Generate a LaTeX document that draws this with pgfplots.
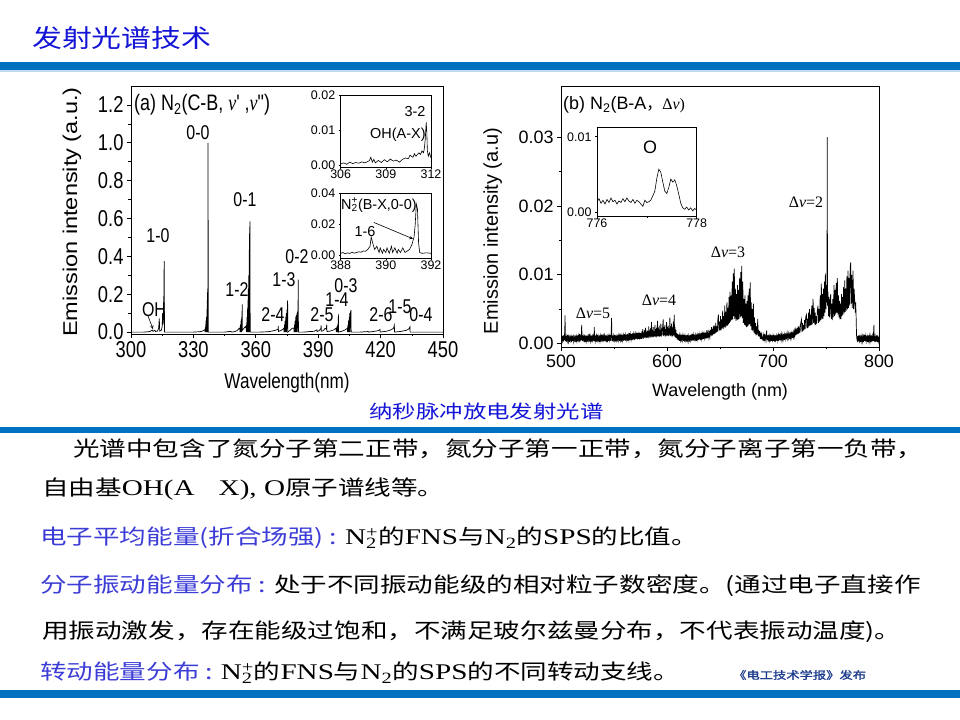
\documentclass[border=0pt]{standalone}
\usepackage{fontspec}
\usepackage{pgfplots}
\pgfplotsset{compat=1.18}
\setmainfont{Liberation Sans}
\newfontfamily\lsans{Liberation Sans}
\newfontfamily\lsansN[FakeStretch=0.8]{Liberation Sans}
\newfontfamily\lsansW[FakeStretch=1.18]{Liberation Sans}
\newfontfamily\lserif{Liberation Serif}
\newfontfamily\lserifN[FakeStretch=0.8]{Liberation Serif}
\newfontfamily\serifW[FakeStretch=1.3]{Liberation Serif}
\newfontfamily\cjk{Noto Sans CJK SC}
\newfontfamily\cjkW[FakeStretch=1.27]{Noto Sans CJK SC}
\newfontfamily\cjkT[FakeStretch=1.2]{Noto Sans CJK SC}
\newfontfamily\cjkB[FakeStretch=1.27,FakeBold=1.5]{Noto Sans CJK SC}
\definecolor{barblue}{RGB}{0,112,192}
\definecolor{titleblue}{RGB}{20,20,215}
\definecolor{labelblue}{RGB}{60,60,215}
\definecolor{pubblue}{RGB}{30,60,140}
\newcommand\fs[1]{\fontsize{#1}{#1}\selectfont}
\newcommand\Ct[1]{{\cjkW\fs{21}#1}}
\newcommand\Lt[1]{{\serifW\fs{22.5}#1}}
\newcommand\Ntwop{N\rlap{\textsubscript{2}}\textsuperscript{+}}
\pgfplotsset{every axis/.append style={/pgf/number format/assume math mode=true, scaled ticks=false,
  tick align=outside, tick pos=left, axis line style={line width=0.8bp}, major tick style={line width=0.7bp, black}, minor tick style={line width=0.6bp, black}}}
\begin{document}
\begin{tikzpicture}
\path[use as bounding box, fill=white] (0,0) rectangle (960bp,720bp);
% bars
\fill[barblue] (0,650bp) rectangle (960bp,658bp);
\fill[barblue!25] (0,648bp) rectangle (960bp,650bp);
\fill[barblue] (0,287bp) rectangle (960bp,293bp);
\fill[barblue] (0,22bp) rectangle (960bp,30bp);
% title
\node[anchor=base west, inner sep=0, text=titleblue] at (32bp,672bp) {\cjkT\fs{25}发射光谱技术};

% ---------- left main axis ----------
\begin{axis}[at={(131bp,386bp)}, anchor=south west, scale only axis, width=312bp, height=248bp,
  xmin=300, xmax=450, ymin=-0.01, ymax=1.3,
  xtick={300,330,360,390,420,450}, ytick={0,0.2,0.4,0.6,0.8,1.0,1.2},
  minor x tick num=1, minor y tick num=1,
  major tick length=4bp, minor tick length=2.5bp,
  tick label style={font=\lsansN\fs{23}},
  yticklabel style={/pgf/number format/.cd, fixed, fixed zerofill, precision=1},
  xlabel={Wavelength(nm)}, ylabel={Emission intensity (a.u.)},
  xlabel style={font=\lsansN\fs{21.5}, at={(axis description cs:0.5,-0.198)}, anchor=center},
  ylabel style={font=\lsansW\fs{20}, at={(axis description cs:-0.189,0.492)}, anchor=center},
]
\addplot[black, line width=0.7bp] coordinates {
(300,0) (306,0) (308.5,0.002) (309.5,0.005) (310.2,0.012) (310.6,0.004) (311.5,0.01) (311.8,0.003) (312.8,0.006) (313.3,0.02) (313.6,0.072) (313.8,0.005) (314.6,0.01) (315.0,0.03) (315.2,0.1) (315.4,0.04) (315.7,0.08) (315.95,0.375) (316.1,0.0) (318,0)
(330,0) (333,0.002) (334.5,0.006) (335.3,0.012) (335.5,0.01) (335.6,0) (335.7,0.02) (335.8,0) (335.9,0.04) (336.0,0) (336.1,0.06) (336.2,0) (336.3,0.08) (336.4,0) (336.5,0.12) (336.6,0) (336.7,0.17) (336.75,0) (336.8,0.21) (336.85,0) (336.9,0.23) (336.95,0.1) (337.05,1.0) (337.15,0.0) (345,0) (348,0.004) (348.3,0) (350,0.003) (351,0.008) (352,0.02) (352.3,0.02) (352.4,0) (352.6,0.04) (352.7,0) (352.9,0.06) (353.0,0) (353.2,0.08) (353.3,0) (353.45,0.147) (353.55,0.01) (354.3,0.02) (355.0,0.03)
(355.4,0.02) (355.5,0) (355.6,0.05) (355.7,0) (355.8,0.08) (355.9,0) (356.0,0.12) (356.1,0) (356.2,0.17) (356.3,0) (356.4,0.23) (356.5,0) (356.6,0.3) (356.7,0) (356.8,0.38) (356.85,0) (356.9,0.45) (356.95,0) (357.0,0.52) (357.05,0.05) (357.1,0.54) (357.2,0.585) (357.3,0.0) (362,0)
(366,0.002) (368,0.006) (369.5,0.01) (370.7,0.015) (370.8,0.033) (370.9,0.003) (372,0.008) (373,0.015) (373.5,0.02) (373.6,0) (373.8,0.04) (373.9,0) (374.1,0.06) (374.2,0) (374.4,0.08) (374.5,0) (374.7,0.1) (374.8,0) (375.0,0.12) (375.1,0.02) (375.2,0.13) (375.3,0.168) (375.4,0.0) (376.5,0.01) (377.5,0.02)
(378.3,0.02) (378.4,0) (378.6,0.04) (378.7,0) (378.9,0.06) (379.0,0) (379.2,0.08) (379.3,0) (379.5,0.09) (379.6,0) (379.8,0.1) (379.9,0) (380.1,0.11) (380.2,0.02) (380.3,0.11) (380.4,0.277) (380.5,0.0) (383,0)
(386,0.003) (388,0.004) (389.4,0.012) (389.5,0.003) (390.5,0.008) (391.3,0.02) (391.4,0.035) (391.5,0.005) (392.5,0.008) (393.3,0.02) (393.9,0.015) (394.1,0.04) (394.2,0.003) (396,0.006) (397.5,0.012) (398.5,0.02)
(398.6,0.015) (398.7,0) (398.9,0.025) (399.0,0) (399.2,0.035) (399.3,0) (399.5,0.045) (399.6,0) (399.7,0.095) (399.8,0.0) (401.5,0.005) (403,0.012)
(404.0,0.02) (404.1,0) (404.3,0.04) (404.4,0) (404.6,0.06) (404.7,0) (404.9,0.08) (405.0,0) (405.2,0.1) (405.3,0) (405.5,0.11) (405.6,0.02) (405.75,0.116) (405.85,0.0) (410,0)
(414,0.003) (414.2,0) (417,0.004) (419,0.008) (419.7,0.014) (419.8,0.0) (423,0.005) (425,0.012) (426.2,0.02) (426.6,0.037) (426.7,0.0) (430,0.004) (432.5,0.01) (433.7,0.018) (434.1,0.028) (434.2,0.0) (440,0) (450,0)
};
\end{axis}

% ---------- left inset OH ----------
\begin{axis}[at={(340.7bp,552.7bp)}, anchor=south west, scale only axis, width=90.3bp, height=72.3bp,
  xmin=306, xmax=312, ymin=-0.00066, ymax=0.02, xtick={306,309,312}, ytick={0,0.01,0.02},
  major tick length=2bp, axis background/.style={fill=white},
  tick label style={font=\lsans\fs{12.5}},
  yticklabel style={/pgf/number format/.cd, fixed, fixed zerofill, precision=2},
  xticklabel style={yshift=3bp}]
\addplot[black, line width=0.6bp] coordinates {
(306,0.0003) (306.2,0.0006) (306.4,0.0002) (306.6,0.0008) (306.8,0.0004) (307,0.0007) (307.2,0.0005) (307.4,0.0009) (307.6,0.0006) (307.8,0.001) (307.9,0.0012) (308,0.0022) (308.1,0.0008) (308.2,0.0016) (308.3,0.0006) (308.5,0.0013) (308.7,0.0007) (308.9,0.0015) (309.1,0.0009) (309.3,0.0017) (309.5,0.0011) (309.7,0.0014) (309.9,0.0008) (310.1,0.0016) (310.3,0.002) (310.5,0.0018) (310.6,0.0028) (310.8,0.0022) (310.9,0.0032) (311.0,0.0025) (311.2,0.0035) (311.3,0.003) (311.4,0.004) (311.5,0.0035) (311.55,0.0045) (311.62,0.0075) (311.68,0.0122) (311.72,0.0095) (311.76,0.004) (311.82,0.0025) (311.9,0.0035) (312,0.002)
};
\node at (axis cs:309.8,0.0086) {\lsans\fs{14.5}OH(A-X)};
\end{axis}

% ---------- left inset N2+ ----------
\begin{axis}[at={(340.7bp,461.7bp)}, anchor=south west, scale only axis, width=90.3bp, height=65bp,
  xmin=388, xmax=392, ymin=-0.0017, ymax=0.04, xtick={388,390,392}, ytick={0,0.02,0.04},
  major tick length=2bp, axis background/.style={fill=white},
  tick label style={font=\lsans\fs{12.5}},
  yticklabel style={/pgf/number format/.cd, fixed, fixed zerofill, precision=2},
  xticklabel style={yshift=3bp}]
\addplot[black, line width=0.6bp] coordinates {
(388,0.0015) (388.1,0.002) (388.2,0.0012) (388.3,0.0018) (388.4,0.0014) (388.5,0.0022) (388.6,0.0016) (388.7,0.002) (388.8,0.0025) (388.9,0.0022) (389.0,0.003) (389.1,0.0028) (389.2,0.004) (389.3,0.006) (389.35,0.012) (389.42,0.008) (389.5,0.004) (389.6,0.006) (389.7,0.002) (389.75,0.005) (389.85,0.0015) (389.9,0.004) (390.0,0.002) (390.05,0.005) (390.15,0.0015) (390.25,0.006) (390.3,0.002) (390.4,0.005) (390.5,0.0015) (390.55,0.004) (390.65,0.002) (390.75,0.005) (390.85,0.002) (390.95,0.003) (391.05,0.004) (391.15,0.007) (391.25,0.012) (391.3,0.02) (391.35,0.033) (391.4,0.03) (391.45,0.008) (391.5,0.002) (391.6,0.0015) (391.8,0.0018) (392,0.0015)
};
\draw[-stealth, line width=0.6bp] (axis cs:389.47,0.0213) -- (axis cs:391.2,0.0108);
\end{axis}

% ---------- right main axis ----------
\begin{axis}[at={(561bp,373bp)}, anchor=south west, scale only axis, width=318bp, height=261bp,
  xmin=500, xmax=800, ymin=-0.0005, ymax=0.03745,
  xtick={500,600,700,800}, ytick={0,0.01,0.02,0.03},
  minor x tick num=1, minor y tick num=1,
  major tick length=4bp, minor tick length=2.5bp,
  tick label style={font=\lsans\fs{18}},
  yticklabel style={/pgf/number format/.cd, fixed, fixed zerofill, precision=2},
  xlabel={Wavelength (nm)}, ylabel={Emission intensity (a.u)},
  xlabel style={font=\lsans\fs{18}, at={(axis description cs:0.5,-0.172)}, anchor=center},
  ylabel style={font=\lsans\fs{20}, at={(axis description cs:-0.215,0.444)}, anchor=center},
]
\addplot[black, line width=0.7bp] coordinates {
(500,0.0009) (500.5,0.0002) (501,0.0011) (501.5,0.0004) (502,0.0012) (502.5,0.0003) (503,0.0010) (503.4,0.0005) (503.8,0.0041) (504.2,0.0004) (504.6,0.0011) (505,0.0002) (505.5,0.0010) (506,0.0004) (506.5,0.0013) (507,0.0003) (507.5,0.0009) (508,0.0002) (508.5,0.0012) (509,0.0005) (509.5,0.0010) (510,0.0002) (510.5,0.0011) (511,0.0004) (511.5,0.0013) (512,0.0003) (512.5,0.0009) (513,0.0005) (513.5,0.0012) (514,0.0002) (514.5,0.0010) (515,0.0004) (515.5,0.0012) (516,0.0003) (516.5,0.0011) (517,0.0005) (517.5,0.0014) (518,0.0003) (518.5,0.0010) (519,0.0005) (519.5,0.0027) (520,0.0004) (520.5,0.0012) (521,0.0003) (521.5,0.0010) (522,0.0005) (522.5,0.0013) (523,0.0002) (523.5,0.0011) (524,0.0004) (524.5,0.0012) (525,0.0003) (525.5,0.0010) (526,0.0005) (526.5,0.0014) (527,0.0003) (527.5,0.0011) (528,0.0004) (528.5,0.0012) (529,0.0002) (529.5,0.0010) (530,0.0005) (530.5,0.0013) (531,0.0004) (531.4,0.0024) (531.8,0.0003) (532.3,0.0012) (532.8,0.0004) (533.3,0.0011) (533.8,0.0003) (534.3,0.0013) (534.8,0.0005) (535.3,0.0010) (535.8,0.0002) (536.3,0.0012) (536.8,0.0004) (537.3,0.0011) (537.8,0.0003) (538.3,0.0013) (538.8,0.0005) (539.3,0.0010) (539.8,0.0003) (540.3,0.0014) (540.8,0.0004) (541.3,0.0011) (541.8,0.0003) (542.3,0.0012) (542.8,0.0005) (543.3,0.0010) (543.8,0.0002) (544.3,0.0013) (544.8,0.0004) (545.3,0.0011) (545.8,0.0005) (546.3,0.0013) (546.8,0.0004) (547.3,0.0012) (547.7,0.0037) (548.1,0.0004) (548.6,0.0012) (549.1,0.0003) (549.6,0.0011) (550.1,0.0005) (550.6,0.0013) (551.1,0.0003) (551.6,0.0012) (552.1,0.0005) (552.6,0.0010) (553.1,0.0003) (553.6,0.0013) (554.1,0.0005) (554.6,0.0012) (555.1,0.0004) (555.6,0.0014) (556.1,0.0005) (556.6,0.0011) (557.1,0.0003) (557.6,0.0013) (558.1,0.0005) (558.6,0.0012) (559.1,0.0004) (559.6,0.0014) (560.1,0.0005) (560.6,0.0012) (561.1,0.0004) (561.6,0.0013) (562.1,0.0006) (562.6,0.0014) (563.1,0.0004) (563.6,0.0012) (564.1,0.0006) (564.6,0.0015) (565.1,0.0005) (565.6,0.0013) (566.1,0.0006) (566.6,0.0014) (567.1,0.0005) (567.6,0.0015) (568.1,0.0006) (568.6,0.0013) (569.1,0.0005) (569.6,0.0016) (570.1,0.0006) (570.6,0.0014) (571.1,0.0007) (571.6,0.0016) (572.1,0.0006) (572.6,0.0015) (573.1,0.0007) (573.6,0.0017) (574.1,0.0006) (574.6,0.0015) (575.1,0.0007) (575.6,0.0016)
(576,0.0007) (576.4,0.0018) (576.8,0.0008) (577.2,0.0021) (577.6,0.0007) (578,0.0016) (578.4,0.0009) (578.8,0.0019) (579.2,0.0008) (579.6,0.0023) (580,0.0009) (580.4,0.0017) (580.8,0.0008) (581.2,0.0020) (581.6,0.0009) (582,0.0018) (582.4,0.0008) (582.8,0.0025) (583.2,0.0010) (583.6,0.0019) (584,0.0008) (584.4,0.0022) (584.8,0.0010) (585.4,0.0031) (585.8,0.0009) (586.2,0.0020) (586.6,0.0010) (587,0.0024) (587.4,0.0009) (587.8,0.0018) (588.2,0.0011) (588.6,0.0027) (589,0.0010) (589.4,0.0021) (589.8,0.0009) (590.2,0.0023) (590.6,0.0011) (591,0.0033) (591.4,0.0010) (591.8,0.0022) (592.2,0.0011) (592.6,0.0026) (593,0.0010) (593.4,0.0020) (593.8,0.0011) (594.2,0.0029) (594.6,0.0010) (595,0.0022) (595.4,0.0012) (595.9,0.0025) (596.4,0.0035) (596.8,0.0011) (597.2,0.0024) (597.6,0.0012) (598,0.0027) (598.4,0.0010) (598.8,0.0021) (599.2,0.0012) (599.6,0.0031) (600,0.0011) (600.4,0.0024) (600.8,0.0012) (601.2,0.0026) (601.6,0.0011) (602,0.0022) (602.3,0.0013) (602.7,0.0038) (603.1,0.0011) (603.5,0.0025) (603.9,0.0012) (604.3,0.0029) (604.7,0.0010) (605.1,0.0023) (605.5,0.0011) (605.9,0.0032) (606.3,0.0012) (606.8,0.0042) (607.2,0.0010) (607.6,0.0024) (608,0.0009) (608.4,0.0020) (608.8,0.0008) (609.2,0.0015) (609.6,0.0006) (610,0.0014)
(610.5,0.0005) (611,0.0013) (611.5,0.0004) (612,0.0012) (612.5,0.0005) (613,0.0011) (613.5,0.0003) (614,0.0013) (614.5,0.0005) (615,0.0012) (615.5,0.0004) (616,0.0013) (616.5,0.0003) (617,0.0011) (617.5,0.0005) (618,0.0012) (618.5,0.0003) (619,0.0013) (619.5,0.0005) (620,0.0011) (620.5,0.0004) (621,0.0012) (621.5,0.0003) (622,0.0013) (622.5,0.0005) (623,0.0011) (623.5,0.0004) (624,0.0014) (624.5,0.0005) (625,0.0012) (625.5,0.0004) (626,0.0013) (626.5,0.0006) (627,0.0012) (627.5,0.0004) (628,0.0014) (628.5,0.0006) (629,0.0012) (629.5,0.0005) (630,0.0015) (630.5,0.0006) (631,0.0013) (631.5,0.0005) (632,0.0015) (632.5,0.0007) (633,0.0014) (633.5,0.0006) (634,0.0017) (634.5,0.0007) (635,0.0014) (635.5,0.0008) (636,0.0016) (636.5,0.0007) (637,0.0015) (637.5,0.0008) (638,0.0019) (638.5,0.0008) (639,0.0016) (639.5,0.0009)
(640,0.0016) (640.5,0.0010) (641,0.0020) (641.5,0.0012) (642,0.0024) (642.5,0.0011) (643,0.0019) (643.5,0.0013) (644,0.0026) (644.5,0.0014) (645,0.0022) (645.5,0.0015) (646,0.0030) (646.5,0.0016) (647,0.0025) (647.5,0.0017) (648,0.0036) (648.5,0.0042) (649,0.0018) (649.5,0.0032) (650,0.0020) (650.5,0.0040) (651,0.0019) (651.5,0.0035) (652,0.0022) (652.5,0.0048) (653,0.0021) (653.5,0.0040) (654,0.0024) (654.5,0.0055) (655,0.0023) (655.5,0.0046) (656,0.0025) (656.5,0.0060) (657,0.0026) (657.5,0.0052) (658,0.0028) (658.5,0.0068) (659,0.0030) (659.5,0.0075) (660,0.0032) (660.5,0.0070) (661,0.0034) (661.5,0.0090) (662,0.0035) (662.5,0.0102) (663,0.0040) (663.5,0.0109) (664,0.0036) (664.5,0.0080) (665,0.0033) (665.5,0.0072) (666,0.0035) (666.5,0.0085) (667,0.0034) (667.5,0.0078) (668,0.0036) (668.5,0.0095) (669,0.0038) (669.5,0.0104) (670,0.0040) (670.5,0.0113) (671,0.0037) (671.5,0.0090) (672,0.0030) (672.5,0.0065) (673,0.0027) (673.5,0.0070) (674,0.0026) (674.5,0.0058) (675,0.0024) (675.5,0.0062) (676,0.0025) (676.5,0.0070) (677,0.0026) (677.5,0.0080) (678,0.0028) (678.5,0.0089) (679,0.0025) (679.5,0.0060) (680,0.0020) (680.5,0.0050) (681,0.0018) (681.5,0.0058) (682,0.0016) (682.5,0.0038) (683,0.0014) (683.5,0.0030) (684,0.0012) (684.5,0.0025) (685,0.0013) (685.6,0.0036) (686,0.0011) (686.5,0.0020) (687,0.0010) (687.5,0.0018) (688,0.0007) (688.5,0.0016) (689,0.0006) (689.5,0.0013) (690,0.0007)
(690.5,0.0005) (691,0.0012) (691.5,0.0004) (692,0.0014) (692.5,0.0005) (693,0.0011) (693.5,0.0006) (694,0.0019) (694.5,0.0005) (695,0.0012) (695.5,0.0003) (696,0.0013) (696.5,0.0005) (697,0.0011) (697.5,0.0003) (698,0.0013) (698.5,0.0004) (699,0.0012) (699.5,0.0003) (700,0.0011) (700.5,0.0004) (701,0.0013) (701.5,0.0003) (702,0.0012) (702.5,0.0005) (703,0.0011) (703.5,0.0004) (704,0.0013) (704.5,0.0005) (705,0.0012) (705.5,0.0004) (706,0.0014) (706.5,0.0005) (707,0.0012) (707.5,0.0006) (708,0.0013) (708.5,0.0005) (709,0.0012) (709.5,0.0006) (710,0.0014) (710.5,0.0005) (711,0.0013) (711.5,0.0007) (712,0.0015) (712.5,0.0006) (713,0.0013) (713.5,0.0007) (714,0.0015) (714.5,0.0008) (715,0.0014) (715.5,0.0007) (716,0.0016) (716.5,0.0008) (717,0.0015) (717.5,0.0009) (718,0.0017) (718.5,0.0008) (719,0.0016) (719.5,0.0010) (720,0.0018)
(720.5,0.0011) (721,0.0019) (721.5,0.0012) (722,0.0022) (722.5,0.0013) (723,0.0020) (723.5,0.0014) (724,0.0025) (724.5,0.0015) (725,0.0022) (725.5,0.0016) (726,0.0028) (726.8,0.0035) (727.3,0.0017) (727.8,0.0030) (728.3,0.0018) (728.8,0.0027) (729.3,0.0020) (729.8,0.0034) (730.3,0.0021) (730.8,0.0038) (731.5,0.0042) (732,0.0022) (732.5,0.0036) (733,0.0023) (733.5,0.0045) (734,0.0025) (734.5,0.0050) (735,0.0026) (735.5,0.0042) (736,0.0027) (736.5,0.0055) (737,0.0028) (737.8,0.0065) (738.3,0.0030) (738.8,0.0052) (739.3,0.0028) (739.8,0.0045) (740.3,0.0027) (740.8,0.0040) (741.3,0.0029) (741.8,0.0048) (742.5,0.0055) (743,0.0030) (743.5,0.0050) (744,0.0032) (744.5,0.0070) (745,0.0034) (745.6,0.0087) (746.1,0.0035) (746.6,0.0072) (747.1,0.0036) (747.6,0.0080) (748.1,0.0040) (748.6,0.0090) (749,0.0045) (749.4,0.0102) (749.9,0.0050) (750.4,0.0085) (750.9,0.0060) (751.2,0.0300) (751.4,0.0055) (751.9,0.0075) (752.4,0.0040) (752.9,0.0068) (753.4,0.0038) (753.9,0.0060) (754.4,0.0072) (754.9,0.0036) (755.4,0.0058) (755.9,0.0034) (756.4,0.0065) (756.9,0.0038) (757.6,0.0085) (758.1,0.0040) (758.6,0.0078) (759.1,0.0042) (759.6,0.0088) (760.1,0.0045) (760.7,0.0095) (761.2,0.0042) (761.7,0.0070) (762.2,0.0038) (762.7,0.0062) (763.2,0.0035) (763.7,0.0058) (764.2,0.0036) (764.6,0.0072) (765.1,0.0040) (765.6,0.0068) (766.1,0.0042) (766.6,0.0082) (767.1,0.0044) (767.7,0.0092) (768.2,0.0046) (768.7,0.0080) (769.2,0.0048) (769.7,0.0098) (770.2,0.0050) (770.8,0.0106) (771.3,0.0052) (771.8,0.0095) (772.3,0.0055) (772.8,0.0110) (773.3,0.0118) (773.8,0.0058) (774.3,0.0100) (774.8,0.0052) (775.5,0.0106) (776,0.0050) (776.5,0.0080) (777.1,0.0062) (777.6,0.0045) (778.0,0.0060) (778.4,0.0040) (778.8,0.0012) (779.2,0.0006)
(779.6,0.0004) (780,0.0011) (780.5,0.0003) (781,0.0012) (781.5,0.0004) (782,0.0010) (782.5,0.0002) (783,0.0012) (783.5,0.0004) (784,0.0011) (784.5,0.0003) (785,0.0010) (785.5,0.0002) (786,0.0013) (786.5,0.0004) (787,0.0011) (787.5,0.0003) (788,0.0012) (788.5,0.0004) (789,0.0010) (789.5,0.0002) (790,0.0012) (790.5,0.0004) (791,0.0011) (791.5,0.0003) (792,0.0010) (792.5,0.0002) (793,0.0012) (793.5,0.0003) (794,0.0011) (794.5,0.0004) (795.2,0.0027) (795.6,0.0003) (796,0.0011) (796.5,0.0002) (797,0.0010) (797.5,0.0003) (798,0.0012) (798.5,0.0002) (799,0.0009) (799.5,0.0003) (800,0.0010)
};
\end{axis}

% ---------- right inset O ----------
\begin{axis}[at={(597bp,503.3bp)}, anchor=south west, scale only axis, width=99.7bp, height=89bp,
  xmin=776, xmax=778, ymin=-0.00058, ymax=0.0112, xtick={776,778}, ytick={0,0.01},
  minor x tick num=1, major tick length=2bp, minor tick length=1.5bp, axis background/.style={fill=white},
  tick label style={font=\lsans\fs{12.5}},
  yticklabel style={/pgf/number format/.cd, fixed, fixed zerofill, precision=2},
  xticklabel style={yshift=3bp}]
\addplot[black, line width=0.6bp] coordinates {
(776.00,0.0014) (776.04,0.0018) (776.08,0.0012) (776.12,0.0016) (776.16,0.0011) (776.2,0.0017) (776.24,0.0013) (776.28,0.0019) (776.32,0.0014) (776.36,0.0016) (776.4,0.0011) (776.44,0.0015) (776.48,0.0013) (776.52,0.0018) (776.56,0.0014) (776.6,0.0019) (776.64,0.0015) (776.68,0.0013) (776.72,0.0017) (776.76,0.0012) (776.8,0.0016) (776.84,0.0014) (776.88,0.0011) (776.92,0.0008) (776.96,0.0016) (777.0,0.0013) (777.04,0.0014) (777.08,0.0016) (777.12,0.0022) (777.16,0.0028) (777.2,0.0045) (777.24,0.0057) (777.28,0.0053) (777.32,0.004) (777.36,0.0028) (777.4,0.0025) (777.44,0.0033) (777.48,0.0044) (777.52,0.004) (777.56,0.0043) (777.6,0.0035) (777.64,0.0024) (777.68,0.0012) (777.72,0.0006) (777.76,0.0004) (777.8,0.0007) (777.84,0.0003) (777.88,0.0006) (777.92,0.0002) (777.96,0.0005) (778,0.0003)
};
\end{axis}

% ---------- chart annotations ----------
\begin{scope}[every node/.style={inner sep=0}]
\node[anchor=west] at (134bp,615bp) {\lsansN\fs{22.5}(a) N\textsubscript{2}(C-B, {\lserifN\itshape ν}' ,{\lserifN\itshape ν}")};
\node at (154bp,410bp) {\lsansN\fs{20}OH};
\draw[-stealth, line width=0.6bp] (148bp,404bp) -- (153bp,391bp);
\node at (158bp,484bp) {\lsansN\fs{20}1-0};
\node at (198bp,587bp) {\lsansN\fs{20}0-0};
\node at (245bp,520bp) {\lsansN\fs{20}0-1};
\node at (237bp,430bp) {\lsansN\fs{20}1-2};
\node at (273bp,405bp) {\lsansN\fs{20}2-4};
\node at (284bp,440bp) {\lsansN\fs{20}1-3};
\node at (297bp,463bp) {\lsansN\fs{20}0-2};
\node at (346bp,434bp) {\lsansN\fs{20}0-3};
\node at (337bp,420bp) {\lsansN\fs{20}1-4};
\node at (322bp,405bp) {\lsansN\fs{20}2-5};
\node at (381bp,405bp) {\lsansN\fs{20}2-6};
\node at (400bp,413bp) {\lsansN\fs{20}1-5};
\node at (421bp,405bp) {\lsansN\fs{20}0-4};
\node at (415bp,608bp) {\lsans\fs{14.5}3-2};
\node[anchor=west] at (341bp,515bp) {\lsans\fs{14.5}N\rlap{\textsubscript{2}}\textsuperscript{+}(B-X,0-0)};
\node at (365bp,488bp) {\lsans\fs{14.5}1-6};
% right
\node[anchor=west] at (563bp,615bp) {\lsans\fs{18}(b) N\textsubscript{2}(B-A{\cjk\fs{16}，}{\lserif\fs{16}Δ{\itshape ν})}};
\node at (650bp,573bp) {\lsans\fs{18}O};
\node at (593bp,407bp) {\lserif\fs{16}Δ{\itshape ν}=5};
\node at (659bp,420bp) {\lserif\fs{16}Δ{\itshape ν}=4};
\node at (728bp,468bp) {\lserif\fs{16}Δ{\itshape ν}=3};
\node at (806bp,518bp) {\lserif\fs{16}Δ{\itshape ν}=2};
\end{scope}

% caption
\node[inner sep=0, text=titleblue] at (486.5bp,309bp) {\cjkW\fs{18.5}纳秒脉冲放电发射光谱};

% body text
\begin{scope}[every node/.style={inner sep=0, anchor=base west}]
\node at (73bp,263bp) {\Ct{光谱中包含了氮分子第二正带，氮分子第一正带，氮分子离子第一负带，}};
\node at (42bp,224bp) {\Ct{自由基}\Lt{OH(A\hspace{24bp}X), O}\Ct{原子谱线等。}};
\node at (40bp,175bp) {{\color{labelblue}\Ct{电子平均能量(折合场强) : }}\Lt{\Ntwop}\Ct{的}\Lt{FNS}\Ct{与}\Lt{N\textsubscript{2}}\Ct{的}\Lt{SPS}\Ct{的比值。}};
\node at (40bp,127bp) {{\color{labelblue}\Ct{分子振动能量分布 : }}\Ct{处于不同振动能级的相对粒子数密度。(通过电子直接作}};
\node at (42bp,81bp) {\Ct{用振动激发，存在能级过饱和，不满足玻尔兹曼分布，不代表振动温度)。}};
\node at (40bp,40bp) {{\color{labelblue}\Ct{转动能量分布 : }}\Lt{\Ntwop}\Ct{的}\Lt{FNS}\Ct{与}\Lt{N\textsubscript{2}}\Ct{的}\Lt{SPS}\Ct{的不同转动支线。}};
\node[text=pubblue] at (733bp,41bp) {\cjkB\fs{10.5}《电工技术学报》发布};
\end{scope}
\end{tikzpicture}
\end{document}
